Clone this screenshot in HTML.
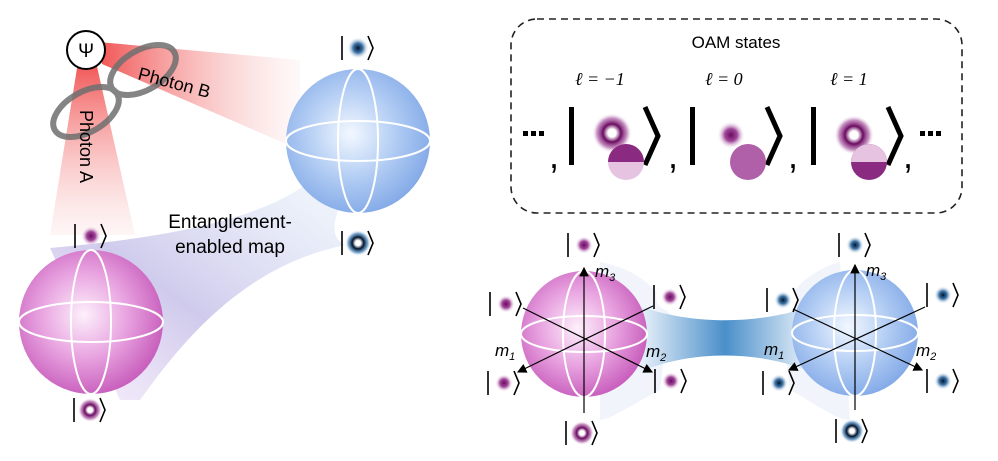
<!DOCTYPE html>
<html><head><meta charset="utf-8"><style>
html,body{margin:0;padding:0;background:#fff;width:998px;height:461px;overflow:hidden}
text{font-family:"Liberation Sans",sans-serif}
.m{font-family:"Liberation Serif",serif;font-style:italic}
</style></head><body>
<svg width="998" height="461" viewBox="0 0 998 461" xmlns="http://www.w3.org/2000/svg">
<defs>
<radialGradient id="pk" cx="0.45" cy="0.45" r="0.6"><stop offset="0" stop-color="#fdf0fb"/><stop offset="0.5" stop-color="#e8a3e0"/><stop offset="1" stop-color="#c456b8"/></radialGradient>
<radialGradient id="bl" cx="0.45" cy="0.45" r="0.6"><stop offset="0" stop-color="#f3f8ff"/><stop offset="0.5" stop-color="#b4cef4"/><stop offset="1" stop-color="#7ea6e6"/></radialGradient>
<radialGradient id="gp"><stop offset="0" stop-color="#6a0a60"/><stop offset="0.45" stop-color="#902888" stop-opacity="0.85"/><stop offset="1" stop-color="#fff" stop-opacity="0"/></radialGradient>
<radialGradient id="gb"><stop offset="0" stop-color="#00122a"/><stop offset="0.45" stop-color="#1f5f9a" stop-opacity="0.85"/><stop offset="1" stop-color="#fff" stop-opacity="0"/></radialGradient>
<radialGradient id="rp"><stop offset="0" stop-color="#fff"/><stop offset="0.2" stop-color="#fff"/><stop offset="0.45" stop-color="#6a0a60"/><stop offset="0.75" stop-color="#a24a9a" stop-opacity="0.6"/><stop offset="1" stop-color="#fff" stop-opacity="0"/></radialGradient>
<radialGradient id="rb"><stop offset="0" stop-color="#fff"/><stop offset="0.2" stop-color="#fff"/><stop offset="0.45" stop-color="#00122a"/><stop offset="0.75" stop-color="#2a70b0" stop-opacity="0.6"/><stop offset="1" stop-color="#fff" stop-opacity="0"/></radialGradient>
<linearGradient id="redA" x1="0" y1="0" x2="0" y2="1"><stop offset="0" stop-color="#f04040" stop-opacity="0.9"/><stop offset="1" stop-color="#f8c0c0" stop-opacity="0.15"/></linearGradient>
<linearGradient id="redB" x1="0" y1="0" x2="1" y2="0"><stop offset="0" stop-color="#f04040" stop-opacity="0.9"/><stop offset="1" stop-color="#f8c0c0" stop-opacity="0.1"/></linearGradient>
<linearGradient id="pur" x1="0" y1="1" x2="1" y2="0"><stop offset="0" stop-color="#d8b8ec" stop-opacity="0.2"/><stop offset="0.45" stop-color="#b0a8e0" stop-opacity="0.6"/><stop offset="1" stop-color="#d0e2f4" stop-opacity="0.3"/></linearGradient>
<linearGradient id="neck" x1="0" y1="0" x2="1" y2="0"><stop offset="0" stop-color="#eaf2fa"/><stop offset="0.5" stop-color="#4a8fca"/><stop offset="1" stop-color="#eaf2fa"/></linearGradient>
<marker id="ar" markerWidth="8" markerHeight="8" refX="7" refY="4" orient="auto"><path d="M0,0L8,4L0,8z" fill="#000"/></marker>
<g id="kb"><path d="M-16,-12V12 M10,-12 L15,0 L10,12" stroke="#000" stroke-width="1.6" fill="none"/></g>
</defs>

<polygon points="78,62 96,62 135,235 50,235" fill="url(#redA)"/>
<polygon points="98,42 102,64 300,150 300,60" fill="url(#redB)"/>
<path d="M50,248 C140,240 250,225 305,185 L340,205 C330,230 335,240 345,245 C250,265 190,330 140,400 L120,400 Z" fill="url(#pur)"/>
<g fill="none" stroke="#6f6f6f" stroke-width="6" opacity="0.85">
<ellipse cx="143" cy="70" rx="36" ry="20" transform="rotate(-30 143 70)"/>
<ellipse cx="86" cy="112" rx="36" ry="20" transform="rotate(-30 86 112)"/>
</g>
<circle cx="86" cy="50" r="19" fill="#fff" stroke="#000" stroke-width="2"/>
<text x="86" y="57" font-size="19" text-anchor="middle" font-family="Liberation Serif,serif">Ψ</text>
<text x="0" y="0" font-size="18" transform="translate(137,79) rotate(15)">Photon B</text>
<text x="0" y="0" font-size="18" transform="translate(80,110) rotate(90)">Photon A</text>
<text x="230" y="228" font-size="19" text-anchor="middle">Entanglement-</text>
<text x="230" y="253" font-size="19" text-anchor="middle">enabled map</text>

<circle cx="91" cy="322" r="72" fill="url(#pk)"/>
<ellipse cx="91" cy="322" rx="72" ry="20" fill="none" stroke="#fff" stroke-width="2"/>
<ellipse cx="91" cy="322" rx="20" ry="72" fill="none" stroke="#fff" stroke-width="2"/>
<circle cx="358" cy="141" r="72" fill="url(#bl)"/>
<ellipse cx="358" cy="141" rx="72" ry="20" fill="none" stroke="#fff" stroke-width="2"/>
<ellipse cx="358" cy="141" rx="20" ry="72" fill="none" stroke="#fff" stroke-width="2"/>

<circle cx="91" cy="236" r="10" fill="url(#gp)"/><use href="#kb" x="91" y="236"/>
<circle cx="90" cy="410" r="12" fill="url(#rp)"/><use href="#kb" x="90" y="410"/>
<circle cx="358" cy="48" r="11" fill="url(#gb)"/><use href="#kb" x="358" y="48"/>
<circle cx="358" cy="243" r="13" fill="url(#rb)"/><use href="#kb" x="358" y="243"/>

<rect x="511" y="19" width="451" height="194" rx="26" fill="none" stroke="#222" stroke-width="1.6" stroke-dasharray="7,5"/>
<text x="736" y="48" font-size="17" text-anchor="middle">OAM states</text>
<g font-size="18">
<text x="575" y="85" class="m">ℓ = −1</text>
<text x="705" y="85" class="m">ℓ = 0</text>
<text x="830" y="85" class="m">ℓ = 1</text>
</g>
<g fill="#000">
<rect x="523" y="131" width="5" height="5"/><rect x="531" y="131" width="5" height="5"/><rect x="539" y="131" width="5" height="5"/>
<rect x="920" y="131" width="5" height="5"/><rect x="928" y="131" width="5" height="5"/><rect x="936" y="131" width="5" height="5"/>
<rect x="569" y="107" width="5" height="58"/><rect x="690" y="107" width="5" height="58"/><rect x="811" y="107" width="5" height="58"/>
</g>
<g fill="none" stroke="#000" stroke-width="5">
<path d="M645,107 L658,136 L645,165"/><path d="M767,107 L780,136 L767,165"/><path d="M888,107 L901,136 L888,165"/>
</g>
<g font-size="36" font-family="Liberation Serif,serif"><text x="549" y="168">,</text><text x="668" y="168">,</text><text x="788" y="168">,</text><text x="903" y="168">,</text></g>
<circle cx="612" cy="133" r="20" fill="url(#rp)"/>
<circle cx="731" cy="135" r="14" fill="url(#gp)"/>
<circle cx="854" cy="135" r="20" fill="url(#rp)"/>
<circle cx="626" cy="162" r="18" fill="#e6c3e0"/><path d="M626,162 L608,162 A18,18 0 1,1 644,162 Z" fill="#8a2a80"/>
<circle cx="748" cy="162" r="18" fill="#b060a8"/>
<circle cx="869" cy="162" r="18" fill="#8a2a80"/><path d="M869,162 L851,162 A18,18 0 1,1 887,162 Z" fill="#e6c3e0"/>

<path d="M600,262 C640,270 660,290 670,315 L660,390 C640,400 610,420 600,420 Z" fill="#eef3fa" opacity="0.8"/>
<path d="M840,262 C810,270 790,290 780,315 L790,390 C810,400 835,420 850,420 Z" fill="#eef3fa" opacity="0.8"/>
<path d="M640,306 C690,325 760,325 810,306 L810,372 C760,350 690,350 640,372 Z" fill="url(#neck)"/>
<circle cx="584" cy="334" r="63" fill="url(#pk)"/>
<ellipse cx="584" cy="334" rx="63" ry="18" fill="none" stroke="#fff" stroke-width="2"/>
<ellipse cx="584" cy="334" rx="21" ry="63" fill="none" stroke="#fff" stroke-width="2"/>
<circle cx="855" cy="333" r="63" fill="url(#bl)"/>
<ellipse cx="855" cy="333" rx="63" ry="18" fill="none" stroke="#fff" stroke-width="2"/>
<ellipse cx="855" cy="333" rx="21" ry="63" fill="none" stroke="#fff" stroke-width="2"/>
<circle cx="670" cy="297" r="14" fill="#fff"/><circle cx="783" cy="300" r="14" fill="#fff"/>
<g stroke="#000" stroke-width="1.2" fill="none">
<line x1="584" y1="413" x2="584" y2="268" marker-end="url(#ar)"/>
<line x1="523" y1="308" x2="652" y2="372" marker-end="url(#ar)"/>
<line x1="653" y1="306" x2="518" y2="372" marker-end="url(#ar)"/>
<line x1="855" y1="410" x2="855" y2="265" marker-end="url(#ar)"/>
<line x1="793" y1="309" x2="922" y2="370" marker-end="url(#ar)"/>
<line x1="925" y1="307" x2="789" y2="370" marker-end="url(#ar)"/>
</g>
<g class="m" font-size="17">
<text x="595" y="277">m<tspan font-size="11" dy="4">3</tspan></text>
<text x="495" y="356">m<tspan font-size="11" dy="4">1</tspan></text>
<text x="646" y="357">m<tspan font-size="11" dy="4">2</tspan></text>
<text x="866" y="276">m<tspan font-size="11" dy="4">3</tspan></text>
<text x="764" y="355">m<tspan font-size="11" dy="4">1</tspan></text>
<text x="916" y="356">m<tspan font-size="11" dy="4">2</tspan></text>
</g>
<circle cx="584" cy="245" r="9" fill="url(#gp)"/><use href="#kb" x="584" y="245"/>
<circle cx="506" cy="304" r="9" fill="url(#gp)"/><use href="#kb" x="506" y="304"/>
<circle cx="670" cy="297" r="9" fill="url(#gp)"/><use href="#kb" x="670" y="297"/>
<circle cx="504" cy="383" r="9" fill="url(#gp)"/><use href="#kb" x="504" y="383"/>
<circle cx="671" cy="381" r="9" fill="url(#gp)"/><use href="#kb" x="671" y="381"/>
<circle cx="582" cy="433" r="12" fill="url(#rp)"/><use href="#kb" x="582" y="433"/>
<circle cx="855" cy="245" r="9" fill="url(#gb)"/><use href="#kb" x="855" y="245"/>
<circle cx="783" cy="300" r="9" fill="url(#gb)"/><use href="#kb" x="783" y="300"/>
<circle cx="943" cy="295" r="9" fill="url(#gb)"/><use href="#kb" x="943" y="295"/>
<circle cx="779" cy="383" r="9" fill="url(#gb)"/><use href="#kb" x="779" y="383"/>
<circle cx="943" cy="381" r="9" fill="url(#gb)"/><use href="#kb" x="943" y="381"/>
<circle cx="852" cy="431" r="12" fill="url(#rb)"/><use href="#kb" x="852" y="431"/>
</svg>
</body></html>
